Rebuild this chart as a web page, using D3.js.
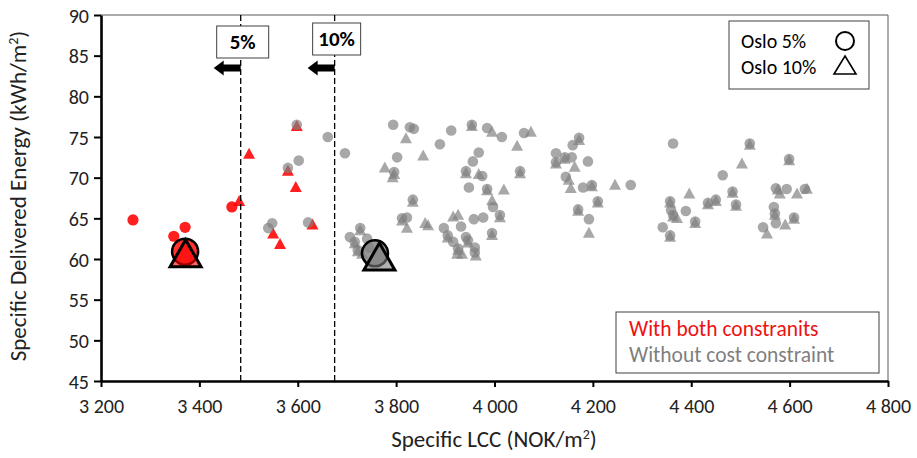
<!DOCTYPE html>
<html>
<head>
<meta charset="utf-8">
<script src="https://cdn.jsdelivr.net/npm/d3@7"></script>
<style>
  body { margin: 0; background: #fff; }
  svg text { font-family: Carlito, Lato, "Open Sans", sans-serif; }
</style>
</head>
<body>
<div id="chart"></div>
<script>
// with both constraints (red)
var redCircles = [[3265,64.8],[3371,63.9],[3348,62.8],[3466,66.4]];
var redTriangles = [[3481,67.2],[3501,73.0],[3598,76.4],[3580,70.9],[3596,68.9],[3550,63.2],[3564,61.9],[3630,64.3]];

// without cost constraint (grey)
var greyCircles = [
	[3598,76.5],[3661,75.0],[3696,73.0],[3602,72.1],[3580,71.2],[3548,64.4],[3540,63.8],[3621,64.5],
	[3794,76.5],[3828,76.2],[3836,76.0],[3802,72.5],[3796,70.7],[3889,74.1],[3912,75.8],[3954,76.5],
	[3985,76.1],[4015,75.0],[4060,75.5],[3968,73.1],[3956,72.0],[3942,70.8],[3975,70.2],[4052,70.8],
	[3948,68.8],[3985,68.6],[3997,66.4],[4011,65.4],[3958,64.9],[3977,65.1],[3995,63.2],[3932,64.0],
	[3834,67.3],[3812,65.0],[3822,65.1],
	[3897,63.8],[3905,62.9],[3916,62.1],[3926,61.3],[3942,62.7],[3946,62.3],[3960,61.4],[3960,60.8],
	[3727,63.8],[3706,62.7],[3716,62.1],[3741,62.5],[3722,61.1],[3745,61.4],
	[4172,74.9],[4159,74.0],[4125,73.0],[4125,71.9],[4143,72.5],[4157,72.5],[4190,72.0],[4145,70.1],
	[4180,68.8],[4198,69.1],[4277,69.1],[4210,67.1],[4170,66.1],[4192,64.9],
	[4363,74.2],[4357,67.1],[4359,66.0],[4363,65.4],[4389,65.9],[4408,64.6],[4342,63.9],[4357,62.9],
	[4434,66.9],[4450,67.3],
	[4464,70.3],[4519,74.2],[4484,68.3],[4491,66.7],[4599,72.3],[4572,68.7],[4594,68.6],[4631,68.6],
	[4568,66.4],[4570,65.6],[4572,64.4],[4609,65.1],[4546,63.9]
];
var greyTriangles = [
	[3820,74.9],[3855,72.8],[3777,71.3],[3796,70.5],[3793,70.1],[3954,76.4],[3995,75.7],[4046,74.0],
	[4074,75.7],[3942,70.6],[3968,70.5],[4052,70.6],[3985,68.5],[4019,68.6],[3995,67.3],[4011,65.2],
	[3995,63.0],[3916,65.3],[3926,65.5],[3834,67.1],[3812,64.8],[3822,63.9],[3859,64.5],[3865,64.2],
	[3924,60.7],[3934,60.7],[3962,60.5],[3905,62.7],[3926,61.2],[3946,62.1],
	[3731,60.7],[3722,61.0],[3716,62.0],[3727,63.6],
	[4172,74.7],[4125,71.8],[4143,72.4],[4163,71.4],[4151,69.8],[4155,68.8],[4198,69.0],[4245,69.2],
	[4210,67.0],[4170,66.0],[4192,63.3],
	[4396,68.1],[4357,67.0],[4363,65.3],[4371,65.1],[4408,64.5],[4357,62.8],[4434,66.8],[4450,67.2],
	[4503,71.8],[4519,74.1],[4484,68.2],[4491,66.6],[4599,72.2],[4580,68.1],[4615,68.1],[4635,68.7],
	[4576,68.6],[4570,65.5],[4591,64.3],[4554,63.2],[4609,65.0]
];

// Oslo reference cases [circle 5%, triangle 10%]
var osloRed = [[3371,60.9],[3372,60.7]];
var osloGrey = [[3757,60.7],[3766,60.3]];

// cost limits
var cutValues = [3484, 3675];
var cutLabels = ["5%", "10%"];

var xTicks = [3200,3400,3600,3800,4000,4200,4400,4600,4800];
var yTicks = [45,50,55,60,65,70,75,80,85,90];

var width = 917, height = 458;
var plotL = 101, plotR = 888, plotT = 15, plotB = 381;

var svg = d3.select("#chart").append("svg")
	.attr("width", width)
	.attr("height", height);

var x = d3.scaleLinear().domain([3200, 4800]).range([plotL, plotR]);
var y = d3.scaleLinear().domain([45, 90]).range([plotB, plotT]);

var loc = d3.formatLocale({decimal: ".", thousands: " ", grouping: [3], currency: ["", ""]});
var fmt = loc.format(",");

// thin frame top/right
svg.append("path")
	.attr("d", "M" + plotL + "," + plotT + "H" + plotR + "V" + plotB)
	.style("fill", "none")
	.style("stroke", "#595959")
	.style("stroke-width", 1);

function triPath(w, h) {
	return "M0," + (-h / 2) + "L" + (w / 2) + "," + (h / 2) + "L" + (-w / 2) + "," + (h / 2) + "Z";
}

var marks = svg.append("g");

function drawCircles(data, color, op, r) {
	marks.selectAll(null).data(data).enter().append("circle")
		.attr("cx", d => x(d[0]))
		.attr("cy", d => y(d[1]))
		.attr("r", r)
		.style("fill", color)
		.style("fill-opacity", op);
}
function drawTriangles(data, color, op, w, h) {
	marks.selectAll(null).data(data).enter().append("path")
		.attr("d", triPath(w, h))
		.attr("transform", d => "translate(" + x(d[0]) + "," + y(d[1]) + ")")
		.style("fill", color)
		.style("fill-opacity", op);
}

drawCircles(redCircles, "#ff0000", 0.88, 5.6);
drawTriangles(redTriangles, "#ff0000", 0.88, 12, 11);
drawCircles(greyCircles, "#7f7f7f", 0.68, 5.3);
drawTriangles(greyTriangles, "#7f7f7f", 0.68, 12, 11);

// Oslo markers
function oslo(data, color) {
	marks.append("circle")
		.attr("cx", x(data[0][0]))
		.attr("cy", y(data[0][1]))
		.attr("r", 13)
		.style("fill", color)
		.style("fill-opacity", 0.8)
		.style("stroke", "#000")
		.style("stroke-width", 2.5);
	marks.append("path")
		.attr("d", triPath(31, 27))
		.attr("transform", "translate(" + x(data[1][0]) + "," + y(data[1][1]) + ")")
		.style("fill", color)
		.style("fill-opacity", 0.6)
		.style("stroke", "#000")
		.style("stroke-width", 3)
		.style("stroke-linejoin", "miter");
}
oslo(osloRed, "#ff0000");
oslo(osloGrey, "#7f7f7f");

// cost limit lines, boxes, arrows
var boxTop = [26, 23];
var boxW = [52, 48];
cutValues.forEach((v, i) => {
	var cx = x(v);
	svg.append("line")
		.attr("x1", cx).attr("x2", cx)
		.attr("y1", plotT).attr("y2", plotB)
		.style("stroke", "#000")
		.style("stroke-width", 1.3)
		.style("stroke-dasharray", "6,3");
	svg.append("rect")
		.attr("x", cx - boxW[i] / 2 + 2)
		.attr("y", boxTop[i])
		.attr("width", boxW[i])
		.attr("height", 32)
		.style("fill", "#fff")
		.style("stroke", "#404040")
		.style("stroke-width", 1);
	svg.append("text")
		.attr("x", cx + 2)
		.attr("y", boxTop[i] + 23)
		.attr("text-anchor", "middle")
		.style("font-size", "21px")
		.style("font-weight", "bold")
		.text(cutLabels[i]);
	var ay = 68;
	svg.append("path")
		.attr("d", "M" + cx + "," + (ay - 3.5) + "H" + (cx - 17) + "V" + (ay - 7.5) +
			"L" + (cx - 27) + "," + ay + "L" + (cx - 17) + "," + (ay + 7.5) +
			"V" + (ay + 3.5) + "H" + cx + "Z")
		.style("fill", "#000");
});

// axes
var xAxis = svg.append("g")
	.attr("transform", "translate(0," + plotB + ")")
	.call(d3.axisBottom(x).tickValues(xTicks).tickFormat(fmt).tickSize(6).tickSizeOuter(0));
var yAxis = svg.append("g")
	.attr("transform", "translate(" + plotL + ",0)")
	.call(d3.axisLeft(y).tickValues(yTicks).tickSize(7).tickSizeOuter(0));

[xAxis, yAxis].forEach(a => {
	a.select(".domain").style("stroke", "#000").style("stroke-width", 2.6);
	a.selectAll(".tick line").style("stroke", "#000").style("stroke-width", 2);
	a.selectAll(".tick text")
		.style("font-size", "20px")
		.style("fill", "#222")
		.style("font-family", "Carlito, Lato, sans-serif");
});
xAxis.selectAll(".tick text").attr("y", 18);
yAxis.selectAll(".tick text").attr("x", -12).attr("dy", "0.35em");

// axis titles
var xt = svg.append("text")
	.attr("x", 494)
	.attr("y", 447)
	.attr("text-anchor", "middle")
	.style("font-size", "23px")
	.style("fill", "#222");
xt.append("tspan").text("Specific LCC (NOK/m");
xt.append("tspan").attr("dy", -8).style("font-size", "14px").text("2");
xt.append("tspan").attr("dy", 8).text(")");

var yt = svg.append("text")
	.attr("transform", "translate(26,196) rotate(-90)")
	.attr("text-anchor", "middle")
	.style("font-size", "23px")
	.style("fill", "#222");
yt.append("tspan").text("Specific Delivered Energy (kWh/m");
yt.append("tspan").attr("dy", -8).style("font-size", "14px").text("2");
yt.append("tspan").attr("dy", 8).text(")");

// Oslo legend
var lg = svg.append("g");
lg.append("rect")
	.attr("x", 729).attr("y", 21).attr("width", 140).attr("height", 68)
	.style("fill", "#fff").style("stroke", "#404040").style("stroke-width", 1);
lg.append("text").attr("x", 741).attr("y", 48).style("font-size", "20px").text("Oslo 5%");
lg.append("text").attr("x", 741).attr("y", 74).style("font-size", "20px").text("Oslo 10%");
lg.append("circle").attr("cx", 845).attr("cy", 41).attr("r", 9)
	.style("fill", "none").style("stroke", "#000").style("stroke-width", 2);
lg.append("path").attr("d", triPath(22, 18))
	.attr("transform", "translate(845,65)")
	.style("fill", "none").style("stroke", "#000").style("stroke-width", 1.6);

// series legend
var lg2 = svg.append("g");
lg2.append("rect")
	.attr("x", 616).attr("y", 312).attr("width", 263).attr("height", 61)
	.style("fill", "#fff").style("stroke", "#404040").style("stroke-width", 1);
lg2.append("text").attr("x", 629).attr("y", 336).style("font-size", "21.5px")
	.style("fill", "#ee1111").text("With both constranits");
lg2.append("text").attr("x", 629).attr("y", 362).style("font-size", "21.5px")
	.style("fill", "#7f7f7f").text("Without cost constraint");
</script>
</body>
</html>
